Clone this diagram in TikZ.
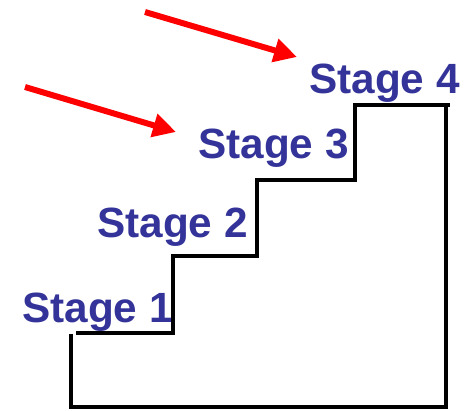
\documentclass[tikz,border=0pt]{standalone}
\usepackage{fontspec}
\setmainfont{Liberation Sans}
\usetikzlibrary{arrows.meta}
\definecolor{stageblue}{RGB}{51,51,153}
\definecolor{arrowred}{RGB}{255,0,0}
\begin{document}
\begin{tikzpicture}[x=1pt,y=-1pt,
  stagelabel/.style={anchor=base west, inner sep=0pt, text=stageblue, font=\fontsize{42.3}{42}\selectfont\bfseries},
  stair/.style={line width=4pt, line join=miter},
  pointer/.style={arrowred, line width=6pt, -{Triangle[length=23pt,width=23pt]}}]
\useasboundingbox (0,0) rectangle (471,410);
% labels
\node[stagelabel] (s1) at (22,322) {Stage 1};
\node[stagelabel] (s2) at (97,237) {Stage 2};
\node[stagelabel] (s3) at (198,158) {Stage 3};
\node[stagelabel] (s4) at (309,93) {Stage 4};
% staircase
\draw[stair] (76,333) -- (173,333) -- (173,256) -- (257,256) -- (257,180) -- (355,180) -- (355,105) -- (450,105);
\draw[stair] (71,334) -- (71,407) -- (446,407) -- (446,105);
% arrows
\coordinate (a1s) at (145,12);
\coordinate (a1e) at (297,57);
\coordinate (a2s) at (25,87);
\coordinate (a2e) at (176,132);
\draw[pointer] (a1s) -- (a1e);
\draw[pointer] (a2s) -- (a2e);
\end{tikzpicture}
\end{document}
